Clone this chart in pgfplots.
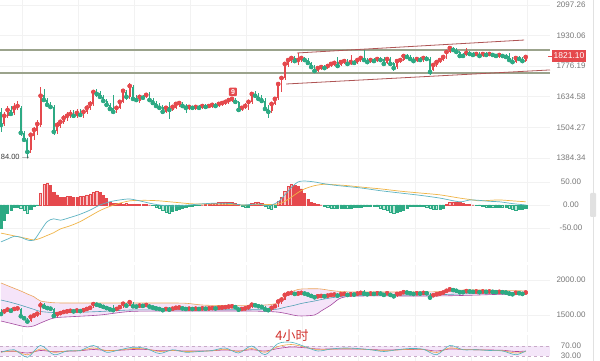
\documentclass[border=0pt]{standalone}
\usepackage{pgfplots}
\pgfplotsset{compat=1.18}
\usepackage{pgfplotstable}
\usepackage{fontspec}
\setmainfont{Liberation Sans}
\newfontfamily\cjk{Noto Sans CJK SC}

\definecolor{cred}{RGB}{229,73,77}
\definecolor{cgreen}{RGB}{45,170,132}
\definecolor{cpink}{RGB}{247,192,194}
\definecolor{clgreen}{RGB}{192,234,219}
\definecolor{colive}{RGB}{155,163,140}
\definecolor{cchan}{RGB}{175,85,85}
\definecolor{cgrid}{RGB}{242,242,242}
\definecolor{csep}{RGB}{225,225,225}
\definecolor{clab}{RGB}{120,120,120}
\definecolor{ctxt}{RGB}{60,60,60}
\definecolor{cbbfill}{RGB}{245,228,249}
\definecolor{cbbor}{RGB}{236,165,92}
\definecolor{cbbpu}{RGB}{165,75,160}
\definecolor{cbbmid}{RGB}{80,160,180}
\definecolor{cmteal}{RGB}{95,180,195}
\definecolor{cmor}{RGB}{240,180,70}
\definecolor{crsifill}{RGB}{244,230,249}
\definecolor{crsidash}{RGB}{200,170,200}
\definecolor{crteal}{RGB}{80,180,190}
\definecolor{cror}{RGB}{240,170,80}
\definecolor{crpu}{RGB}{180,70,150}
\definecolor{cfour}{RGB}{210,50,45}

\pgfplotstableread{
i o h l c
0 1569 1586 1486 1514
1 1518 1569 1510 1552
2 1552 1594 1543 1577
3 1577 1594 1552 1560
4 1564 1607 1556 1586
5 1586 1616 1577 1594
6 1586 1594 1470 1482
7 1482 1490 1446 1454
8 1454 1462 1384 1407
9 1415 1482 1403 1474
10 1470 1506 1454 1494
11 1490 1535 1474 1518
12 1514 1679 1506 1639
13 1643 1670 1612 1620
14 1620 1630 1590 1599
15 1603 1612 1581 1590
16 1590 1599 1474 1486
17 1490 1527 1478 1514
18 1510 1535 1502 1527
19 1527 1556 1518 1543
20 1543 1569 1531 1552
21 1552 1577 1543 1560
22 1560 1577 1543 1552
23 1552 1581 1543 1564
24 1564 1581 1548 1556
25 1552 1577 1543 1569
26 1569 1599 1560 1586
27 1586 1616 1577 1603
28 1603 1665 1594 1656
29 1656 1670 1634 1647
30 1652 1661 1625 1634
31 1634 1643 1607 1616
32 1616 1625 1590 1599
33 1599 1607 1573 1581
34 1586 1643 1560 1569
35 1569 1594 1564 1586
36 1586 1620 1581 1612
37 1612 1670 1607 1661
38 1656 1665 1620 1634
39 1634 1697 1625 1683
40 1679 1688 1616 1625
41 1625 1643 1612 1620
42 1616 1643 1607 1634
43 1634 1643 1620 1630
44 1634 1652 1630 1643
45 1647 1656 1612 1620
46 1620 1630 1599 1607
47 1607 1616 1586 1594
48 1594 1607 1577 1586
49 1590 1599 1560 1569
50 1569 1594 1564 1586
51 1590 1612 1539 1577
52 1577 1599 1573 1590
53 1586 1612 1581 1603
54 1599 1616 1590 1607
55 1603 1612 1586 1594
56 1594 1603 1564 1586
57 1586 1599 1577 1590
58 1590 1594 1581 1586
59 1586 1599 1577 1590
60 1590 1599 1577 1586
61 1586 1603 1581 1594
62 1594 1603 1581 1590
63 1590 1603 1586 1594
64 1594 1607 1586 1599
65 1599 1607 1590 1594
66 1594 1612 1590 1603
67 1603 1616 1594 1607
68 1607 1620 1599 1612
69 1612 1630 1603 1620
70 1620 1634 1612 1625
71 1620 1630 1603 1612
72 1612 1616 1569 1577
73 1581 1594 1573 1586
74 1586 1607 1581 1594
75 1590 1620 1577 1612
76 1612 1656 1603 1647
77 1647 1661 1630 1639
78 1639 1652 1620 1625
79 1630 1643 1607 1616
80 1616 1630 1573 1581
81 1581 1599 1543 1569
82 1573 1612 1564 1603
83 1603 1634 1599 1625
84 1630 1702 1620 1692
85 1683 1729 1656 1720
86 1720 1796 1711 1787
87 1782 1816 1772 1806
88 1801 1826 1792 1816
89 1816 1826 1792 1801
90 1801 1841 1782 1806
91 1806 1826 1796 1816
92 1816 1821 1796 1806
93 1806 1816 1782 1792
94 1792 1796 1767 1772
95 1777 1782 1744 1753
96 1753 1777 1748 1767
97 1767 1782 1758 1772
98 1772 1782 1758 1767
99 1767 1787 1763 1777
100 1777 1796 1772 1787
101 1787 1801 1777 1792
102 1796 1821 1772 1777
103 1782 1806 1777 1796
104 1796 1811 1787 1801
105 1801 1811 1782 1787
106 1792 1831 1782 1796
107 1796 1806 1782 1792
108 1792 1816 1787 1806
109 1806 1826 1796 1816
110 1816 1856 1796 1806
111 1806 1816 1787 1796
112 1796 1816 1792 1806
113 1806 1816 1792 1801
114 1801 1821 1796 1811
115 1811 1821 1796 1806
116 1811 1821 1777 1787
117 1792 1821 1787 1811
118 1811 1821 1777 1787
119 1792 1796 1753 1767
120 1772 1806 1763 1801
121 1801 1811 1792 1806
122 1806 1836 1801 1826
123 1826 1836 1811 1821
124 1821 1831 1806 1811
125 1811 1821 1796 1801
126 1801 1816 1796 1811
127 1811 1821 1801 1806
128 1806 1821 1796 1816
129 1816 1826 1801 1811
130 1811 1821 1734 1748
131 1758 1792 1753 1782
132 1782 1801 1772 1796
133 1796 1811 1792 1806
134 1806 1826 1801 1821
135 1816 1851 1811 1846
136 1846 1876 1841 1866
137 1866 1871 1846 1856
138 1856 1866 1841 1846
139 1846 1851 1821 1826
140 1831 1841 1821 1826
141 1831 1866 1826 1841
142 1841 1851 1826 1836
143 1836 1846 1826 1831
144 1831 1841 1826 1836
145 1836 1846 1821 1826
146 1826 1841 1821 1836
147 1836 1846 1821 1831
148 1831 1841 1826 1836
149 1836 1841 1821 1831
150 1831 1836 1821 1826
151 1826 1836 1816 1831
152 1831 1836 1816 1826
153 1826 1836 1816 1821
154 1826 1841 1801 1806
155 1811 1821 1787 1796
156 1796 1821 1792 1816
157 1816 1826 1806 1811
158 1811 1821 1796 1801
159 1801 1826 1796 1821
}\candles

\pgfplotstableread{
i v t
0 -50 3
1 -33 3
2 -17 3
3 -11 3
4 -5 3
5 -4 3
6 -8 2
7 -12 2
8 -17 2
9 -10 3
10 -3 3
11 -1 3
12 26 0
13 44 0
14 48 0
15 43 1
16 28 1
17 22 1
18 17 1
19 17 1
20 18 0
21 18 1
22 17 1
23 17 1
24 18 0
25 20 0
26 22 0
27 24 0
28 28 0
29 30 0
30 27 1
31 21 1
32 15 1
33 7 1
34 4 1
35 4 1
36 3 1
37 2 1
38 3 0
39 2 1
40 2 1
41 1 1
42 1 1
43 1 1
44 1 1
45 0 1
46 -1 2
47 -4 2
48 -8 2
49 -12 2
50 -15 2
51 -17 2
52 -14 3
53 -12 3
54 -10 3
55 -6 3
56 -4 3
57 -3 3
58 -2 3
59 -1 3
60 -1 3
61 0 1
62 1 0
63 2 0
64 3 0
65 4 0
66 5 0
67 6 0
68 7 0
69 6 1
70 5 1
71 4 1
72 2 1
73 -3 2
74 -5 2
75 -4 3
76 3 0
77 6 0
78 7 0
79 4 1
80 -3 2
81 -7 2
82 -9 2
83 -5 3
84 8 0
85 17 0
86 30 0
87 40 0
88 45 0
89 43 1
90 40 1
91 35 1
92 25 1
93 12 1
94 5 1
95 4 1
96 2 1
97 0 1
98 -3 2
99 -5 2
100 -6 2
101 -7 2
102 -7 3
103 -6 3
104 -6 3
105 -7 2
106 -6 3
107 -5 3
108 -5 3
109 -4 3
110 -3 3
111 -2 3
112 -2 3
113 -3 2
114 -3 3
115 -6 2
116 -10 2
117 -12 2
118 -15 2
119 -17 2
120 -15 3
121 -13 3
122 -11 3
123 -8 3
124 -3 3
125 -2 3
126 -2 3
127 -2 3
128 -3 2
129 -4 2
130 -6 2
131 -9 2
132 -10 2
133 -9 3
134 -6 3
135 2 0
136 5 0
137 7 0
138 7 1
139 6 1
140 4 1
141 2 1
142 1 1
143 0 1
144 -1 2
145 -1 3
146 -3 2
147 -4 2
148 -4 3
149 -5 2
150 -4 3
151 -4 3
152 -5 2
153 -5 3
154 -6 2
155 -9 2
156 -11 2
157 -10 3
158 -9 3
159 -8 3
}\macdh

\pgfplotstableread{
i m s
0 -80 -61
2 -74 -64
4 -68 -67
6 -70 -70
8 -76 -73
10 -76 -76
12 -56 -72
14 -36 -66
16 -30 -60
18 -33 -52
21 -27 -45
24 -20 -36
27 -11 -24
30 0 -12
33 7 -3
36 11 4
39 13 9
42 9 10
45 4 10
48 0 9
51 -2 7
54 -2 5
57 0 3
60 2 2
65 4 2
70 3 1
73 0 0
78 2 1
81 -2 1
84 7 2
86 22 8
88 38 17
90 50 27
92 52 35
95 50 42
98 46 45
101 43 44
105 40 42
109 37 39
115 31 35
121 26 30
127 21 26
133 15 22
139 7 15
142 11 12
145 10 9
148 8 10
151 7 11
155 3 9
159 0 7
}\macdl

\pgfplotstableread{
i up mid lo
0 1957 1714 1414
3 1900 1680 1380
6 1843 1640 1345
8 1800 1610 1330
10 1760 1580 1345
12 1700 1550 1386
16 1675 1535 1457
21 1671 1535 1475
30 1671 1550 1500
39 1671 1571 1550
50 1671 1575 1557
56 1668 1575 1557
62 1640 1575 1557
75 1635 1575 1557
83 1660 1580 1545
86 1780 1610 1525
89 1850 1640 1495
91 1871 1665 1486
95 1875 1700 1500
97 1871 1720 1557
100 1850 1745 1643
103 1835 1765 1743
108 1830 1780 1771
130 1830 1788 1771
139 1855 1800 1778
145 1858 1810 1786
151 1850 1815 1795
159 1845 1815 1800
}\bb

\pgfplotstableread{
i a b c
0 45 45 48
4 55 50 49
8 25 35 42
12 72 58 52
16 35 45 47
20 50 50 49
24 52 52 51
28 72 62 56
32 45 52 52
36 55 54 53
40 65 60 56
44 60 58 56
48 40 48 51
52 55 52 52
56 45 48 50
60 48 49 50
64 52 51 51
68 62 57 54
72 42 48 50
76 70 60 55
80 35 45 50
84 80 68 60
88 85 76 66
92 68 66 63
96 50 55 58
100 58 57 58
104 62 59 58
108 60 58 58
112 55 55 56
116 48 51 54
120 55 54 55
124 60 57 56
128 57 56 56
132 35 44 50
136 72 62 58
140 55 56 56
144 55 55 55
148 52 53 54
152 50 51 53
156 35 42 48
159 50 48 50
}\rsi

\pgfplotsset{
  panel/.style={
    scale only axis, width=550pt, anchor=south west,
    xmin=-0.303, xmax=166.36,
    axis line style={draw=none},
    major tick length=0pt,
    xtick={6.4,23.4,40.4,57.4,74.4,91.4,108.4,125.4,142.4,159.4},
    xticklabels={},
    xmajorgrids, ymajorgrids,
    grid style={cgrid, line width=0.5pt},
    yticklabel pos=right,
    yticklabel style={font=\fontsize{8}{9}\selectfont, text=clab, anchor=center, xshift=21pt},
  },
  wick/.style={only marks, mark=none, error bars/.cd, y dir=both, y explicit, error mark=none,
    error bar style={line width=#1}},
}

\begin{document}
\begin{tikzpicture}
\useasboundingbox (0,0) rectangle (600pt,361pt);
\fill[white] (0,0) rectangle (600pt,361pt);
\draw[csep, line width=0.8pt] (593pt,0) -- (593pt,361pt);
\fill[csep, rounded corners=1pt] (590pt,144pt) rectangle (596pt,168pt);

% ---------------- main price panel
\begin{axis}[panel, at={(0pt,193pt)}, height=168pt, ymode=log,
  ymin=1347, ymax=2125.9, clip=false,
  ytick={1384.34,1504.27,1634.58,1776.19,1930.06,2097.26},
  yticklabels={1384.34,1504.27,1634.58,1776.19,1930.06,2097.26}]
\addplot[colive, line width=1.7pt] coordinates {(-0.303,1856) (166.36,1856)};
\addplot[colive, line width=1.7pt] coordinates {(-0.303,1742) (166.36,1742)};
\addplot[cchan, line width=0.8pt] coordinates {(89.7,1841) (158.5,1907)};
\addplot[cchan, line width=0.8pt] coordinates {(86.4,1692) (166.36,1758)};
\addplot[cred, restrict expr to domain={\thisrow{c}-\thisrow{o}}{0:1000}, wick=0.6pt]
  table[x=i, y=c, y error plus expr={\thisrow{h}-\thisrow{c}}, y error minus expr={\thisrow{c}-\thisrow{l}}] {\candles};
\addplot[cred, restrict expr to domain={\thisrow{c}-\thisrow{o}}{0:1000}, wick=1.9pt]
  table[x=i, y=c, y error plus expr={0}, y error minus expr={\thisrow{c}-\thisrow{o}}] {\candles};
\addplot[cgreen, restrict expr to domain={\thisrow{o}-\thisrow{c}}{0.5:1000}, wick=0.6pt]
  table[x=i, y=c, y error plus expr={\thisrow{h}-\thisrow{c}}, y error minus expr={\thisrow{c}-\thisrow{l}}] {\candles};
\addplot[cgreen, restrict expr to domain={\thisrow{o}-\thisrow{c}}{0.5:1000}, wick=1.9pt]
  table[x=i, y=c, y error plus expr={\thisrow{o}-\thisrow{c}}, y error minus expr={0}] {\candles};
\node[fill=cred, rounded corners=1pt, text=white, inner sep=0pt, minimum width=8pt, minimum height=8.5pt,
  font=\fontsize{7}{7}\selectfont\bfseries] at (axis cs:70.3,1656) {9};
\node[anchor=west, inner sep=0pt, text=ctxt, font=\fontsize{7.5}{8}\selectfont] at (axis cs:-0.1,1388) {84.00 $\rightarrow$};
\end{axis}

% ---------------- MACD panel
\begin{axis}[panel, at={(0pt,99pt)}, height=94pt,
  ymin=-123.7, ymax=80.3,
  ytick={-50,0,50}, yticklabels={-50.00,0.00,50.00}]
\addplot[ybar, bar width=2.2pt, bar shift=0pt, draw=cred, fill=cpink, line width=0.45pt,
  restrict expr to domain={\thisrow{t}}{-0.5:0.5}] table[x=i,y=v] {\macdh};
\addplot[ybar, bar width=2.2pt, bar shift=0pt, draw=cred, fill=cred, line width=0.45pt,
  restrict expr to domain={\thisrow{t}}{0.5:1.5}] table[x=i,y=v] {\macdh};
\addplot[ybar, bar width=2.2pt, bar shift=0pt, draw=cgreen, fill=clgreen, line width=0.45pt,
  restrict expr to domain={\thisrow{t}}{1.5:2.5}] table[x=i,y=v] {\macdh};
\addplot[ybar, bar width=2.2pt, bar shift=0pt, draw=cgreen, fill=cgreen, line width=0.45pt,
  restrict expr to domain={\thisrow{t}}{2.5:3.5}] table[x=i,y=v] {\macdh};
\addplot[cmor, line width=0.7pt, smooth, mark=none] table[x=i,y=s] {\macdl};
\addplot[cmteal, line width=0.7pt, smooth, mark=none] table[x=i,y=m] {\macdl};
\end{axis}

% ---------------- Bollinger panel
\begin{axis}[panel, at={(0pt,29pt)}, height=67pt,
  ymin=1257.1, ymax=2214.3,
  ytick={1500,2000}, yticklabels={1500.00,2000.00}]
\addplot[fill=cbbfill, draw=none] coordinates {
 (0,1957) (3,1900) (6,1843) (8,1800) (10,1760) (12,1700) (16,1675) (21,1671) (30,1671) (39,1671)
 (50,1671) (56,1668) (62,1640) (75,1635) (83,1660) (86,1780) (89,1850) (91,1871) (95,1875) (97,1871)
 (100,1850) (103,1835) (108,1830) (130,1830) (139,1855) (145,1858) (151,1850) (159,1845)
 (159,1800) (151,1795) (145,1786) (139,1778) (130,1771) (108,1771) (103,1743) (100,1643) (97,1557)
 (95,1500) (91,1486) (89,1495) (86,1525) (83,1545) (75,1557) (62,1557) (56,1557) (50,1557) (39,1550)
 (30,1500) (21,1475) (16,1457) (12,1386) (10,1345) (8,1330) (6,1345) (3,1380) (0,1414)};
\addplot[cbbor, line width=0.6pt, smooth] table[x=i,y=up] {\bb};
\addplot[cbbpu, line width=0.6pt, smooth] table[x=i,y=lo] {\bb};
\addplot[cbbmid, line width=0.6pt, smooth] table[x=i,y=mid] {\bb};
\addplot[cred, restrict expr to domain={\thisrow{c}-\thisrow{o}}{0:1000}, wick=0.3pt]
  table[x=i, y=c, y error plus expr={\thisrow{h}-\thisrow{c}}, y error minus expr={\thisrow{c}-\thisrow{l}}] {\candles};
\addplot[cred, restrict expr to domain={\thisrow{c}-\thisrow{o}}{0:1000}, wick=0.9pt]
  table[x=i, y=c, y error plus expr={0}, y error minus expr={\thisrow{c}-\thisrow{o}}] {\candles};
\addplot[cgreen, restrict expr to domain={\thisrow{o}-\thisrow{c}}{0.5:1000}, wick=0.3pt]
  table[x=i, y=c, y error plus expr={\thisrow{h}-\thisrow{c}}, y error minus expr={\thisrow{c}-\thisrow{l}}] {\candles};
\addplot[cgreen, restrict expr to domain={\thisrow{o}-\thisrow{c}}{0.5:1000}, wick=0.9pt]
  table[x=i, y=c, y error plus expr={\thisrow{o}-\thisrow{c}}, y error minus expr={0}] {\candles};
\end{axis}

% ---------------- RSI panel
\begin{axis}[panel, at={(0pt,0pt)}, height=26pt,
  ymin=10, ymax=114, ymajorgrids=false,
  ytick={30,70}, yticklabels={30.00,70.00}]
\addplot[fill=crsifill, draw=none] coordinates {(-0.303,30) (166.36,30) (166.36,70) (-0.303,70)};
\addplot[crsidash, dashed, line width=0.6pt] coordinates {(-0.303,70) (166.36,70)};
\addplot[crsidash, dashed, line width=0.6pt] coordinates {(-0.303,30) (166.36,30)};
\addplot[crpu, line width=0.6pt, smooth] table[x=i,y=c] {\rsi};
\addplot[cror, line width=0.6pt, smooth] table[x=i,y=b] {\rsi};
\addplot[crteal, line width=0.6pt, smooth] table[x=i,y=a] {\rsi};
\end{axis}

% price tag and period label
\draw[cred, line width=0.8pt] (548pt,305pt) -- (553pt,305pt);
\node[fill=cred, text=white, inner sep=0pt, minimum width=34pt, minimum height=12.5pt,
  font=\fontsize{8.5}{9}\selectfont] at (569pt,305pt) {1821.10};
\node[text=cfour, inner sep=0pt, font=\cjk\fontsize{13}{13}\selectfont] at (292pt,25pt) {4小时};
\end{tikzpicture}
\end{document}
